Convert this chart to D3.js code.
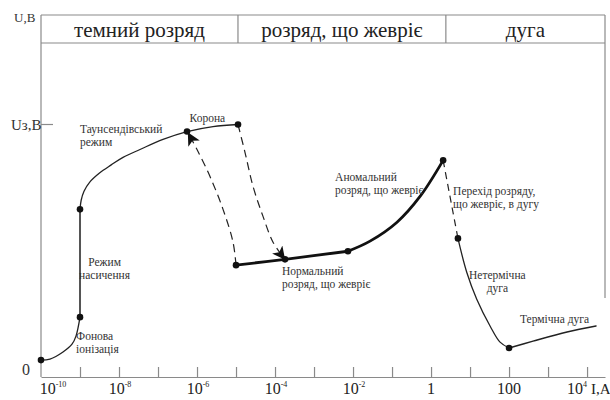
<!DOCTYPE html>
<html>
<head>
<meta charset="utf-8">
<script src="https://cdn.jsdelivr.net/npm/d3@7"></script>
<style>
  body { margin: 0; background: #fff; }
</style>
</head>
<body>
<div id="chart"></div>
<script>
// ---- data (x = log10 of current I, A ; y = voltage in units of Uз) ----
const phaseNames = ["темний розряд", "розряд, що жевріє", "дуга"];
const phaseBounds = [-10, -4.95, 0.38, 4.46];

const lgTicks = [-9, -8, -7, -6, -5, -4, -3, -2, -1, 0, 1, 2, 3, 4];
const lgLabels = [-10, -8, -6, -4, -2, 0, 2, 4];

// curve pieces
const bgLg = [-10, -9.77, -9.436, -9.205, -9.103, -9.0];
const bgU = [0.067, 0.071, 0.099, 0.130, 0.162, 0.237];

const satLg = [-9.0, -9.0];
const satU = [0.237, 0.664];

const townLg = [-9.0, -8.97, -8.9, -8.75, -8.5, -8.2, -7.897, -7.462, -6.872, -6.256, -5.59, -4.949];
const townU = [0.664, 0.70, 0.735, 0.772, 0.808, 0.84, 0.870, 0.901, 0.941, 0.972, 0.992, 1.0];

const normLg = [-5.0, -3.744, -2.13];
const normU = [0.443, 0.466, 0.498];

const anomLg = [-2.13, -1.564, -0.872, -0.282, 0.31];
const anomU = [0.498, 0.538, 0.613, 0.715, 0.858];

const transLg = [0.31, 0.69];
const transU = [0.858, 0.549];

const nonThermLg = [0.69, 0.915, 1.172, 1.513, 1.769, 2.0];
const nonThermU = [0.549, 0.415, 0.308, 0.202, 0.138, 0.115];

const thermLg = [2.0, 2.615, 3.487, 4.23];
const thermU = [0.115, 0.142, 0.178, 0.202];

// dashed arrows (hysteresis)
const downLg = [-4.949, -4.769, -4.564, -4.308, -4.051, -3.76];
const downU = [1.0, 0.889, 0.755, 0.636, 0.534, 0.468];
const upLg = [-5.0, -5.077, -5.333, -5.667, -6.0, -6.22];
const upU = [0.443, 0.534, 0.664, 0.794, 0.901, 0.965];

// dots
const dotLg = [-10, -9, -9, -6.256, -4.949, -5.0, -3.744, -2.13, 0.31, 0.69, 2.0];
const dotU = [0.067, 0.237, 0.664, 0.972, 1.0, 0.443, 0.466, 0.498, 0.858, 0.549, 0.115];

// annotations [text lines, lgI, U, anchor]
const notes = [
  [["Корона"], -6.19, 1.01, "start"],
  [["Таунсендівський", "режим"], -9.0, 0.965, "start"],
  [["Режим", "насичення"], -8.37, 0.44, "middle"],
  [["Фонова", "іонізація"], -9.1, 0.145, "start"],
  [["Нормальний", "розряд, що жевріє"], -3.82, 0.405, "start"],
  [["Аномальний", "розряд, що жевріє"], -2.46, 0.775, "start"],
  [["Перехід розряду,", "що жевріє, в дугу"], 0.565, 0.72, "start"],
  [["Нетермічна", "дуга"], 1.7, 0.39, "middle"],
  [["Термічна дуга"], 2.28, 0.214, "start"]
];

// ---- layout ----
const W = 610, H = 400;
const x0 = 41, x1 = 605, yTop = 15, yHead = 43, yAxis = 377;
const serif = "'Liberation Serif', 'Times New Roman', 'DejaVu Serif', serif";

const svg = d3.select("#chart").append("svg")
  .attr("width", W).attr("height", H)
  .attr("font-family", serif);

const x = d3.scaleLinear().domain([phaseBounds[0], phaseBounds[3]]).range([x0, x1]);
const y = d3.scaleLinear().domain([0, 1]).range([yAxis, 124.5]);

const frame = "#8a8a8a";

// header box
svg.append("line").attr("x1", x0).attr("x2", x1).attr("y1", yTop).attr("y2", yTop)
  .attr("stroke", frame).attr("stroke-width", 1.2);
svg.append("line").attr("x1", x0).attr("x2", x1).attr("y1", yHead).attr("y2", yHead)
  .attr("stroke", frame).attr("stroke-width", 1.2);
svg.append("line").attr("x1", x1).attr("x2", x1).attr("y1", yTop).attr("y2", 298)
  .attr("stroke", frame).attr("stroke-width", 1.2);
phaseBounds.slice(1, 3).forEach(b => {
  svg.append("line").attr("x1", x(b)).attr("x2", x(b)).attr("y1", yTop).attr("y2", yHead)
    .attr("stroke", frame).attr("stroke-width", 1.2);
});
phaseNames.forEach((n, i) => {
  svg.append("text")
    .attr("x", (x(phaseBounds[i]) + x(phaseBounds[i + 1])) / 2)
    .attr("y", 37)
    .attr("text-anchor", "middle")
    .attr("font-size", 21)
    .attr("fill", "#222")
    .text(n);
});

// y axis
svg.append("line").attr("x1", x0).attr("x2", x0).attr("y1", yTop).attr("y2", yAxis)
  .attr("stroke", frame).attr("stroke-width", 1.2);
svg.append("line").attr("x1", x0).attr("x2", x0 + 12).attr("y1", y(1)).attr("y2", y(1))
  .attr("stroke", frame).attr("stroke-width", 1.2);
svg.append("text").attr("x", 11).attr("y", y(1) + 5).attr("font-size", 15).attr("fill", "#333").text("Uз,В");
svg.append("text").attr("x", 14).attr("y", 22).attr("font-size", 13).attr("fill", "#333").text("U,B");
svg.append("text").attr("x", 22).attr("y", 375).attr("font-size", 16).attr("fill", "#333").text("0");

// x axis
const xAxis = d3.axisBottom(x).tickValues(lgTicks).tickSize(-10).tickSizeOuter(0).tickFormat("");
const gx = svg.append("g").attr("transform", `translate(0,${yAxis})`).call(xAxis);
gx.select(".domain").attr("stroke", frame).attr("stroke-width", 1.2);
gx.selectAll(".tick line").attr("stroke", frame).attr("stroke-width", 1.2);

lgLabels.forEach(e => {
  const t = svg.append("text")
    .attr("y", 394)
    .attr("font-size", 16)
    .attr("fill", "#222");
  if (e === 0) {
    t.attr("x", x(e)).attr("text-anchor", "middle").text("1");
  } else if (e === 2) {
    t.attr("x", x(e)).attr("text-anchor", "middle").text("100");
  } else {
    const off = e === -10 ? 12 : (e === 4 ? -10 : 1);
    t.attr("x", x(e) + off).attr("text-anchor", "middle");
    t.append("tspan").text("10");
    t.append("tspan").attr("font-size", 8).attr("dy", -7).text(String(e));
  }
});
svg.append("text").attr("x", 591).attr("y", 394).attr("font-size", 15).attr("fill", "#222").text("I,A");

// markers
svg.append("defs").append("marker")
  .attr("id", "arr")
  .attr("viewBox", "0 0 10 10")
  .attr("refX", 9).attr("refY", 5)
  .attr("markerWidth", 13).attr("markerHeight", 13)
  .attr("markerUnits", "userSpaceOnUse")
  .attr("orient", "auto")
  .append("path").attr("d", "M0,0 L10,5 L0,10 L2.5,5 Z").attr("fill", "#111");

const line = d3.line().x(d => x(d[0])).y(d => y(d[1])).curve(d3.curveCatmullRom);
const zip = (a, b) => a.map((v, i) => [v, b[i]]);

function piece(lg, u, w, color, dash, marker) {
  const p = svg.append("path")
    .attr("d", line(zip(lg, u)))
    .attr("fill", "none")
    .attr("stroke", color)
    .attr("stroke-width", w)
    .attr("stroke-linecap", "round");
  if (dash) p.attr("stroke-dasharray", dash).attr("stroke-linecap", "butt");
  if (marker) p.attr("marker-end", "url(#arr)");
}

piece(bgLg, bgU, 1.3, "#222");
piece(satLg, satU, 2, "#555");
piece(townLg, townU, 1.3, "#222");
piece(normLg, normU, 2.8, "#111");
piece(anomLg, anomU, 2.8, "#111");
piece(transLg, transU, 1.2, "#222", "7,5");
piece(nonThermLg, nonThermU, 1.3, "#222");
piece(thermLg, thermU, 1.5, "#222");
piece(downLg, downU, 1.2, "#222", "8,5", true);
piece(upLg, upU, 1.2, "#222", "8,5", true);

svg.selectAll(".dot")
  .data(zip(dotLg, dotU))
  .join("circle")
  .attr("class", "dot")
  .attr("cx", d => x(d[0]))
  .attr("cy", d => y(d[1]))
  .attr("r", 3.3)
  .attr("fill", "#111");

notes.forEach(n => {
  const t = svg.append("text")
    .attr("x", x(n[1]))
    .attr("y", y(n[2]))
    .attr("text-anchor", n[3])
    .attr("font-size", 11.5)
    .attr("fill", "#333");
  n[0].forEach((s, i) => {
    t.append("tspan").attr("x", x(n[1])).attr("dy", i === 0 ? 0 : 13).text(s);
  });
});
</script>
</body>
</html>
